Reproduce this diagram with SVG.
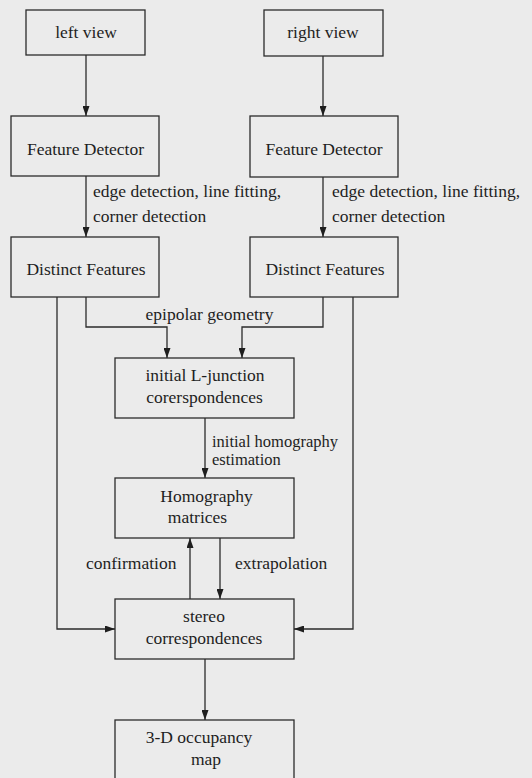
<svg xmlns="http://www.w3.org/2000/svg" width="532" height="778" viewBox="0 0 532 778">
<style>
.box{fill:none;stroke:#2b2b2b;stroke-width:1.3}
.ln{fill:none;stroke:#2b2b2b;stroke-width:1.3}
text{font-family:"Liberation Serif","Times New Roman",serif;font-size:17.5px;fill:#1e1e1e}
.c{text-anchor:middle}
.s{font-size:16.5px}
</style>
<defs>
<marker id="ah" markerWidth="10" markerHeight="7" refX="10" refY="3.5" orient="auto" markerUnits="userSpaceOnUse">
<path d="M0,0 L10,3.5 L0,7 Z" fill="#1e1e1e"/>
</marker>
</defs>
<rect width="532" height="778" fill="#ebebeb"/>
<g id="connectors">
<line class="ln" x1="86" y1="55" x2="86" y2="116" marker-end="url(#ah)"/>
<line class="ln" x1="323" y1="56" x2="323" y2="116" marker-end="url(#ah)"/>
<line class="ln" x1="86" y1="176" x2="86" y2="237" marker-end="url(#ah)"/>
<line class="ln" x1="323" y1="177" x2="323" y2="237" marker-end="url(#ah)"/>
<polyline class="ln" points="86,297 86,327 167,327 167,358" marker-end="url(#ah)"/>
<polyline class="ln" points="323,297 323,327 242,327 242,358" marker-end="url(#ah)"/>
<line class="ln" x1="205" y1="418" x2="205" y2="478" marker-end="url(#ah)"/>
<line class="ln" x1="190" y1="599" x2="190" y2="538" marker-end="url(#ah)"/>
<line class="ln" x1="220" y1="538" x2="220" y2="599" marker-end="url(#ah)"/>
<polyline class="ln" points="57,297 57,629 115,629" marker-end="url(#ah)"/>
<polyline class="ln" points="353,297 353,629 294,629" marker-end="url(#ah)"/>
<line class="ln" x1="205" y1="659" x2="205" y2="720" marker-end="url(#ah)"/>
<text x="93" y="197">edge detection, line fitting,</text>
<text x="93" y="222">corner detection</text>
<text x="332" y="197">edge detection, line fitting,</text>
<text x="332" y="222">corner detection</text>
<text x="209.5" y="320" class="c">epipolar geometry</text>
<text x="212" y="447" class="s">initial homography</text>
<text x="212" y="465" class="s">estimation</text>
<text x="86" y="569">confirmation</text>
<text x="235" y="569">extrapolation</text>
</g>
<g id="left-view"><rect class="box" x="26" y="10" width="119" height="45"/><text x="86" y="38" class="c">left view</text></g>
<g id="right-view"><rect class="box" x="264" y="10" width="119" height="46"/><text x="323" y="38" class="c">right view</text></g>
<g id="feature-detector-left"><rect class="box" x="11" y="116" width="148" height="60"/><text x="85.5" y="155" class="c">Feature Detector</text></g>
<g id="feature-detector-right"><rect class="box" x="250" y="116" width="148" height="61"/><text x="324" y="155" class="c">Feature Detector</text></g>
<g id="distinct-features-left"><rect class="box" x="11" y="237" width="148" height="60"/><text x="86" y="275" class="c">Distinct Features</text></g>
<g id="distinct-features-right"><rect class="box" x="250" y="237" width="148" height="60"/><text x="325" y="275" class="c">Distinct Features</text></g>
<g id="initial-l-junction"><rect class="box" x="115" y="358" width="179" height="60"/><text x="205" y="381" class="c">initial L-junction</text><text x="204.5" y="403" class="c">corerspondences</text></g>
<g id="homography"><rect class="box" x="115" y="478" width="179" height="60"/><text x="206.5" y="502" class="c">Homography</text><text x="197.5" y="523" class="c">matrices</text></g>
<g id="stereo"><rect class="box" x="115" y="599" width="179" height="60"/><text x="204" y="622" class="c">stereo</text><text x="204" y="644" class="c">correspondences</text></g>
<g id="occupancy"><rect class="box" x="115" y="720" width="179" height="70"/><text x="199" y="743" class="c">3-D occupancy</text><text x="206" y="765" class="c">map</text></g>
</svg>
